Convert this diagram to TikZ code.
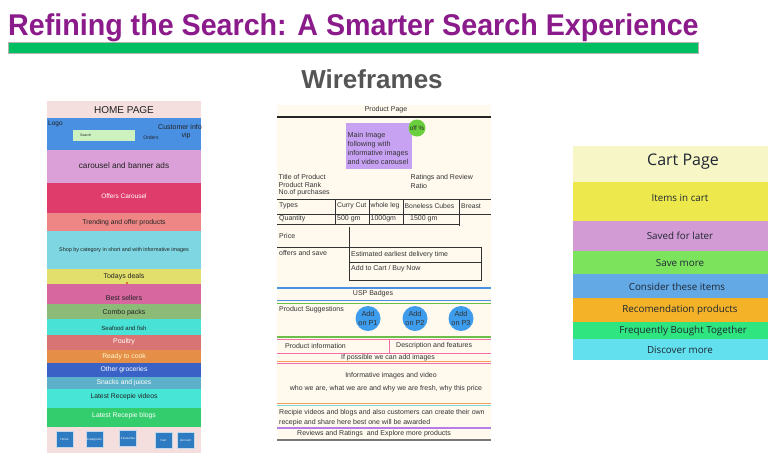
\documentclass[tikz,border=0pt]{standalone}
\usepackage{fontspec}
\setmainfont{Liberation Sans}
\newfontfamily\cartfont{Open Sans}
\usepackage{graphicx}
\newcommand\fz[1]{\fontsize{#1}{#1}\selectfont}
\definecolor{titlepurple}{HTML}{8B1A8B}
\definecolor{titlegreen}{HTML}{00BF63}
\definecolor{wfgray}{HTML}{555555}
\definecolor{txtdark}{HTML}{222222}
\definecolor{cartText}{HTML}{1E2633}
\definecolor{hpbg}{HTML}{F4DEDE}
\definecolor{hpblue}{HTML}{4A90E2}
\definecolor{searchgreen}{HTML}{CDF2C0}
\definecolor{cCarousel}{HTML}{DCA0D8}
\definecolor{cOffers}{HTML}{E03C6B}
\definecolor{cTrending}{HTML}{EE8686}
\definecolor{cShop}{HTML}{7DD6E2}
\definecolor{cToday}{HTML}{E2DF6C}
\definecolor{cBest}{HTML}{D6679F}
\definecolor{cCombo}{HTML}{8CBB78}
\definecolor{cSea}{HTML}{48E2D6}
\definecolor{cPoultry}{HTML}{D87474}
\definecolor{cReady}{HTML}{E58E47}
\definecolor{cOther}{HTML}{3A62C6}
\definecolor{cSnacks}{HTML}{5DB0C9}
\definecolor{cVideos}{HTML}{47E5D6}
\definecolor{cBlogs}{HTML}{33CD6D}
\definecolor{cButton}{HTML}{2E7BC1}
\definecolor{prodbg}{HTML}{FFF9EE}
\definecolor{lavender}{HTML}{C8A2F2}
\definecolor{offgreen}{HTML}{6ACF3C}
\definecolor{circblue}{HTML}{3D9CEB}
\definecolor{lineblue}{HTML}{4A90E2}
\definecolor{linegreen}{HTML}{6CC04A}
\definecolor{linepink}{HTML}{F06EA9}
\definecolor{lineorange}{HTML}{F5A05A}
\definecolor{linecyan}{HTML}{7FD8E0}
\definecolor{linepurple}{HTML}{B77EE8}
\definecolor{linegray}{HTML}{777777}
\definecolor{cartHead}{HTML}{F7F6C6}
\definecolor{cartItems}{HTML}{EDE84B}
\definecolor{cartSaved}{HTML}{D39BD4}
\definecolor{cartSave}{HTML}{7CE35C}
\definecolor{cartConsider}{HTML}{63A9E6}
\definecolor{cartRecom}{HTML}{F3B228}
\definecolor{cartFreq}{HTML}{2EE57F}
\definecolor{cartDisc}{HTML}{62E0EE}
\begin{document}
\begin{tikzpicture}[x=1pt,y=-1pt,
  lbl/.style={inner sep=0pt,text=txtdark},
  hpl/.style={lbl,font=\fz{6.5}},
  hpw/.style={hpl,text=white},
  pl/.style={lbl,font=\fz{7},text=black!80},
  plw/.style={pl,anchor=west},
  tline/.style={draw=black!80,line width=0.8pt},
  btn/.style={fill=cButton,draw=white!70!cButton,line width=0.4pt,minimum width=17pt,minimum height=16pt,inner sep=0pt,text=white,font=\fz{3}},
  addon/.style={circle,fill=circblue,minimum size=25pt,inner sep=0pt,align=center,text=black!80,font=\fontsize{7.3}{8.5}\selectfont},
  cartl/.style={lbl,text=cartText,font=\cartfont\fz{9.8}}
]
\useasboundingbox (0,0) rectangle (768,456);
\fill[white] (0,0) rectangle (768,456);

% ---------- title ----------
\node[anchor=base west,inner sep=0pt,text=titlepurple,font=\bfseries\fz{30}] (title) at (8,35)
  {\scalebox{0.955}[1]{Refining the Search: A Smarter Search Experience}};
\draw[fill=titlegreen,draw=gray!60,line width=0.5pt] (8,42) rectangle (698,53);
\node[anchor=base,inner sep=0pt,text=wfgray,font=\bfseries\fz{26}] (wf) at (372,88) {Wireframes};

% ---------- home page ----------
\fill[hpbg] (47,101) rectangle (201,453);
\node[lbl,font=\fz{10}] (hptitle) at (124,110) {HOME PAGE};
\fill[hpblue] (47,118) rectangle (201,150);
\node[lbl,anchor=west,font=\fz{6.5}] (logo) at (48,124) {Logo};
\fill[searchgreen] (73,130) rectangle (135,141);
\node[lbl,anchor=west,font=\fz{3.5}] (search) at (80,135.5) {Search};
\node[lbl,font=\fz{5}] (orders) at (151,138) {Orders};
\node[lbl,font=\fz{7}] (cust) at (180,127) {Customer info};
\node[lbl,font=\fz{7}] (vip) at (186,136) {vip};

\fill[cCarousel] (47,150) rectangle (201,183);
\node[lbl,font=\fz{8.2}] (carousel) at (124,166) {carousel and banner ads};
\fill[cOffers] (47,183) rectangle (201,213);
\node[hpw] (offers) at (124,196) {Offers Carousel};
\fill[cTrending] (47,213) rectangle (201,231);
\node[hpl,font=\fz{6.8}] (trending) at (124,223) {Trending and offer products};
\fill[cShop] (47,231) rectangle (201,269);
\node[hpl,font=\fz{5.4}] (shop) at (124,250) {Shop by category in short and with informative images};
\fill[cToday] (47,269) rectangle (201,284);
\node[hpl,font=\fz{7}] (today) at (124,277) {Todays deals};
\fill[red!80!black] (127,283) circle (0.9);
\fill[cBest] (47,284) rectangle (201,304);
\node[hpl,font=\fz{7}] (best) at (124,298) {Best sellers};
\fill[cCombo] (47,304) rectangle (201,319);
\node[hpl,font=\fz{7}] (combo) at (124,313) {Combo packs};
\fill[cSea] (47,319) rectangle (201,335);
\node[hpl,font=\fz{6}] (sea) at (124,328) {Seafood and fish};
\fill[cPoultry] (47,335) rectangle (201,350);
\node[hpw,font=\fz{7}] (poultry) at (124,342) {Poultry};
\fill[cReady] (47,350) rectangle (201,363);
\node[hpw,text=yellow!20,font=\fz{6.8}] (ready) at (124,356.5) {Ready to cook};
\fill[cOther] (47,363) rectangle (201,377);
\node[hpw,font=\fz{6.8}] (other) at (124,369.5) {Other groceries};
\fill[cSnacks] (47,377) rectangle (201,389);
\node[hpw,font=\fz{6.8}] (snacks) at (124,382.5) {Snacks and juices};
\fill[cVideos] (47,389) rectangle (201,408);
\node[hpl,font=\fz{6.8}] (videos) at (124,397) {Latest Recepie videos};
\fill[cBlogs] (47,408) rectangle (201,427);
\node[hpw,font=\fz{6.8}] (blogs) at (124,415.5) {Latest Recepie blogs};

\node[btn] (bHome) at (64.5,439) {Home};
\node[btn] (bCat) at (94.5,439.5) {Categories};
\node[btn] (bFav) at (128,438.5) {Favourites};
\node[btn] (bCart) at (163.5,440.5) {Cart};
\node[btn] (bAcc) at (185.5,440) {Account};

% ---------- product page ----------
\fill[prodbg] (277,105) rectangle (491,440);
\node[pl] (ppTitle) at (386,110) {Product Page};
\draw[black!85,line width=1.2pt] (277,117) -- (491,117);
\fill[lavender] (346,123) rectangle (412,169);
\node[pl,anchor=west,align=left,font=\fontsize{7.2}{9}\selectfont] (mainimg) at (347.5,148.5)
  {Main Image\\following with\\informative images\\and video carousel};
\node[circle,fill=offgreen,minimum size=17pt,inner sep=0pt,text=black!85,font=\fz{6.3}] (off) at (417,128) {off \%};
\node[pl,anchor=north west,align=left,font=\fontsize{7}{7.8}\selectfont] (titleprod) at (278.5,174)
  {Title of Product\\Product Rank\\No.of purchases};
\node[pl,anchor=north west,align=left,font=\fontsize{7}{8.8}\selectfont] (ratings) at (410.5,174)
  {Ratings and Review\\Ratio};

% table
\draw[tline] (277,199) -- (491,199);
\draw[tline] (277,214) -- (491,214);
\draw[tline] (277,224) -- (460,224);
\draw[tline] (335,199) -- (335,224);
\draw[tline] (369,199) -- (369,224);
\draw[tline] (403,199) -- (403,224);
\draw[tline] (459,199) -- (459,226);
\node[plw] (tTypes) at (279,206) {Types};
\node[plw,font=\fz{6.8}] (tCurry) at (337,206) {Curry Cut};
\node[plw,font=\fz{6.8}] (tLeg) at (370.5,206) {whole leg};
\node[plw,font=\fz{6.8}] (tBone) at (404.5,206) {Boneless Cubes};
\node[plw,font=\fz{6.8}] (tBreast) at (461,206) {Breast};
\node[plw] (tQty) at (279,219) {Quantity};
\node[plw] (t500) at (337,219) {500 gm};
\node[plw] (t1000) at (370.5,219) {1000gm};
\node[plw] (t1500) at (410,219) {1500 gm};
\node[plw] (price) at (279,236) {Price};
\draw[tline] (349,227) -- (349,280);
\draw[tline] (277,247) -- (481,247) -- (481,280) -- (349,280);
\draw[tline] (349,262) -- (481,262);
\node[plw] (offersave) at (279,253) {offers and save};
\node[plw] (estim) at (351,254.5) {Estimated earliest delivery time};
\node[plw] (addcart) at (351,269) {Add to Cart / Buy Now};

\draw[lineblue,line width=1.3pt] (277,288) -- (491,288);
\node[pl] (usp) at (373,294) {USP Badges};
\draw[lineblue,line width=1pt] (277,300) -- (491,300);
\draw[linegreen,line width=1pt] (277,303) -- (491,303);
\node[plw] (sugg) at (279,310) {Product Suggestions};
\node[addon] (p1) at (368,318.5) {Add\\on P1};
\node[addon] (p2) at (415,318.5) {Add\\on P2};
\node[addon] (p3) at (461,318.5) {Add\\on P3};
\draw[linegreen,line width=1.5pt] (277,337) -- (491,337);
\draw[linepink,line width=1pt] (277,339.5) -- (491,339.5);
\draw[linepink,line width=1pt] (389,339.5) -- (389,353);
\node[plw] (pinfo) at (285,346) {Product information};
\node[plw] (pdesc) at (396,346) {Description and features};
\draw[linepink,line width=1pt] (277,353) -- (491,353);
\node[pl] (ifpos) at (388,357.5) {If possible we can add images};
\draw[lineorange,line width=1pt] (277,361.5) -- (491,361.5);
\draw[linepink,line width=1pt] (277,363.5) -- (491,363.5);
\node[pl] (infimg) at (391,376) {Informative images and video};
\node[pl] (whowe) at (386,389) {who we are, what we are and why we are fresh, why this price};
\draw[lineorange,line width=1pt] (277,403) -- (491,403);
\draw[linecyan,line width=1pt] (277,405) -- (491,405);
\node[plw] (recipie1) at (279,413) {Recipie videos and blogs and also customers can create their own};
\node[plw] (recipie2) at (279,423) {recepie and share here best one will be awarded};
\draw[linepurple,line width=1.6pt] (277,428) -- (491,428);
\node[plw] (reviews) at (297,433.5) {Reviews and Ratings\ \ and Explore more products};
\draw[linegray,line width=1.2pt] (277,440) -- (491,440);

% ---------- cart page ----------
\fill[cartHead] (573,146) rectangle (768,182);
\node[lbl,text=cartText,font=\cartfont\fz{16}] (cartTitle) at (683,162) {Cart Page};
\fill[cartItems] (573,182) rectangle (768,221);
\node[cartl] (cItems) at (680,198) {Items in cart};
\fill[cartSaved] (573,221) rectangle (768,251);
\node[cartl] (cSaved) at (680,236) {Saved for later};
\fill[cartSave] (573,251) rectangle (768,274);
\node[cartl] (cSave) at (680,263) {Save more};
\fill[cartConsider] (573,274) rectangle (768,298);
\node[cartl] (cConsider) at (677,287) {Consider these items};
\fill[cartRecom] (573,298) rectangle (768,322);
\node[cartl] (cRecom) at (680,310) {Recomendation products};
\fill[cartFreq] (573,322) rectangle (768,339);
\node[cartl] (cFreq) at (683,331) {Frequently Bought Together};
\fill[cartDisc] (573,339) rectangle (768,360);
\node[cartl] (cDisc) at (680,350) {Discover more};
\end{tikzpicture}
\end{document}
